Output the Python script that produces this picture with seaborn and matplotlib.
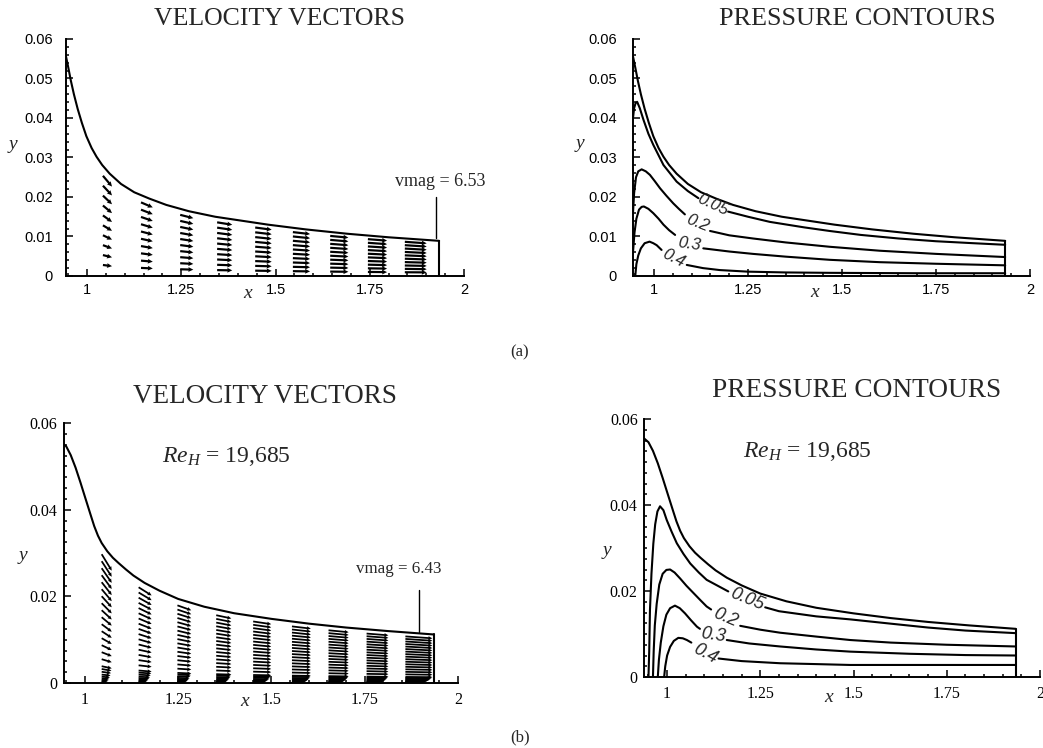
import numpy as np
import matplotlib
matplotlib.use("Agg")
import matplotlib.pyplot as plt
import seaborn as sns
from matplotlib.ticker import MultipleLocator, FixedLocator, FuncFormatter

# ---------------- duct geometry: upper wall y(x) ----------------
wall_a_x = [0.944, 0.950, 0.957, 0.965, 0.975, 0.986, 0.998, 1.012, 1.025, 1.040, 1.060,
            1.090, 1.125, 1.165, 1.210, 1.270, 1.340, 1.410, 1.480, 1.580, 1.690, 1.800, 1.934]
wall_a_y = [0.0556, 0.0528, 0.0494, 0.0460, 0.0423, 0.0388, 0.0354, 0.0324, 0.0302, 0.0281, 0.0259,
            0.0233, 0.0212, 0.0196, 0.0180, 0.0164, 0.0150, 0.0140, 0.0130, 0.0118, 0.0107, 0.0098, 0.0089]

wall_b_x = [0.938, 0.950, 0.962, 0.975, 0.988, 1.000, 1.015, 1.025, 1.035, 1.045, 1.060, 1.075,
            1.090, 1.110, 1.130, 1.160, 1.200, 1.250, 1.320, 1.400, 1.500, 1.600, 1.700, 1.810, 1.935]
wall_b_y = [0.0555, 0.0546, 0.0526, 0.0497, 0.0463, 0.0430, 0.0389, 0.0362, 0.0340, 0.0323, 0.0304, 0.0289,
            0.0277, 0.0262, 0.0248, 0.0231, 0.0213, 0.0194, 0.0176, 0.0161, 0.0148, 0.0137, 0.0128, 0.0120, 0.0112]

# ---------------- velocity vector stations ----------------
stations_a_x = [1.042, 1.143, 1.247, 1.345, 1.446, 1.546, 1.645, 1.745, 1.843]
speed_a = [2.7, 3.5, 3.9, 4.5, 4.9, 5.1, 5.4, 5.7, 6.5]
rows_a = [0.10, 0.19, 0.28, 0.37, 0.46, 0.55, 0.64, 0.73, 0.82, 0.91]
vmag_a = 6.53

stations_b_x = [1.045, 1.144, 1.248, 1.352, 1.451, 1.555, 1.653, 1.755, 1.859]
speed_b = [2.4, 3.1, 3.3, 3.6, 4.3, 4.5, 4.8, 5.2, 6.43]
core_rows_b = [0.92, 0.87, 0.82, 0.77, 0.72, 0.67, 0.62, 0.57, 0.52, 0.47, 0.42,
               0.37, 0.32, 0.27, 0.22, 0.17, 0.12]
bl_rows_b = [0.003, 0.008, 0.014, 0.022, 0.032, 0.045, 0.060, 0.080, 0.100]
bl_speed_b = [0.40, 0.52, 0.60, 0.68, 0.75, 0.82, 0.88, 0.93, 0.97]
vmag_b = 6.43
reynolds_b = "19,685"

# ---------------- isobars, case (a) ----------------
iso_levels = ["0.05", "0.2", "0.3", "0.4"]

iso_a_005_x = [0.944, 0.947, 0.951, 0.955, 0.962, 0.972, 0.985, 0.998, 1.025, 1.060, 1.090, 1.118,
               1.197, 1.250, 1.308, 1.400, 1.467, 1.550, 1.650, 1.750, 1.850, 1.934]
iso_a_005_y = [0.0400, 0.0425, 0.0438, 0.0441, 0.0425, 0.0395, 0.0360, 0.0332, 0.0281, 0.0239, 0.0215, 0.0197,
               0.0163, 0.0150, 0.0137, 0.0123, 0.0114, 0.0104, 0.0095, 0.0088, 0.0083, 0.0079]
iso_a_02_x = [0.944, 0.947, 0.952, 0.958, 0.967, 0.978, 0.989, 1.002, 1.016, 1.033, 1.051, 1.066, 1.082,
              1.149, 1.200, 1.263, 1.350, 1.467, 1.600, 1.750, 1.934]
iso_a_02_y = [0.0160, 0.0210, 0.0250, 0.0265, 0.0270, 0.0265, 0.0256, 0.0240, 0.0222, 0.0203, 0.0184, 0.0170, 0.0156,
              0.0114, 0.0103, 0.0095, 0.0085, 0.0074, 0.0064, 0.0056, 0.0048]
iso_a_03_x = [0.944, 0.948, 0.953, 0.960, 0.967, 0.973, 0.985, 0.998, 1.012, 1.025, 1.040, 1.056,
              1.131, 1.200, 1.263, 1.350, 1.467, 1.600, 1.750, 1.934]
iso_a_03_y = [0.0060, 0.0110, 0.0145, 0.0168, 0.0175, 0.0176, 0.0170, 0.0159, 0.0145, 0.0130, 0.0116, 0.0104,
              0.0070, 0.0062, 0.0056, 0.0049, 0.0041, 0.0035, 0.0031, 0.0027]
iso_a_04_x = [0.950, 0.953, 0.958, 0.965, 0.975, 0.988, 0.998, 1.007, 1.020,
              1.087, 1.130, 1.175, 1.250, 1.350, 1.467, 1.700, 1.934]
iso_a_04_y = [0.0000, 0.0030, 0.0052, 0.0070, 0.0083, 0.0087, 0.0083, 0.0078, 0.0066,
              0.0028, 0.0020, 0.0015, 0.0011, 0.0009, 0.0008, 0.0007, 0.0007]
iso_a_split = [12, 13, 12, 9]

# ---------------- isobars, case (b) ----------------
iso_b_005_x = [0.950, 0.952, 0.954, 0.958, 0.963, 0.968, 0.974, 0.981, 0.990, 0.999, 1.012, 1.026, 1.044,
               1.062, 1.085, 1.106, 1.164,
               1.263, 1.300, 1.400, 1.491, 1.600, 1.700, 1.800, 1.935]
iso_b_005_y = [0.0000, 0.0060, 0.0156, 0.0240, 0.0310, 0.0355, 0.0385, 0.0397, 0.0388, 0.0365, 0.0338, 0.0311, 0.0286,
               0.0264, 0.0243, 0.0226, 0.0199,
               0.0162, 0.0153, 0.0141, 0.0134, 0.0124, 0.0115, 0.0108, 0.0102]
iso_b_02_x = [0.962, 0.964, 0.967, 0.972, 0.979, 0.988, 0.998, 1.008, 1.020, 1.035, 1.052, 1.071, 1.090, 1.106, 1.118,
              1.196, 1.250, 1.303, 1.400, 1.491, 1.600, 1.750, 1.935]
iso_b_02_y = [0.0000, 0.0060, 0.0120, 0.0170, 0.0215, 0.0240, 0.0249, 0.0250, 0.0243, 0.0229, 0.0212, 0.0195, 0.0178, 0.0164, 0.0157,
              0.0119, 0.0110, 0.0103, 0.0094, 0.0086, 0.0080, 0.0075, 0.0071]
iso_b_03_x = [0.975, 0.978, 0.983, 0.990, 0.998, 1.008, 1.021, 1.034, 1.048, 1.064, 1.080, 1.088,
              1.160, 1.220, 1.303, 1.400, 1.491, 1.650, 1.800, 1.935]
iso_b_03_y = [0.0000, 0.0040, 0.0080, 0.0118, 0.0145, 0.0160, 0.0166, 0.0160, 0.0148, 0.0132, 0.0117, 0.0112,
              0.0086, 0.0078, 0.0071, 0.0064, 0.0059, 0.0054, 0.0051, 0.0050]
iso_b_04_x = [0.992, 0.995, 1.000, 1.008, 1.018, 1.030, 1.042, 1.053, 1.065,
              1.138, 1.200, 1.303, 1.400, 1.491, 1.700, 1.935]
iso_b_04_y = [0.0000, 0.0025, 0.0050, 0.0070, 0.0084, 0.0091, 0.0090, 0.0086, 0.0080,
              0.0043, 0.0037, 0.0032, 0.0030, 0.0028, 0.0028, 0.0028]
iso_b_split = [17, 15, 12, 9]

x_ticks = [1, 1.25, 1.5, 1.75, 2]

# ---------------- style ----------------
sns.set_theme(style="ticks")
plt.rcParams.update({
    "font.family": ["Liberation Serif", "DejaVu Serif"],
    "mathtext.fontset": "custom",
    "mathtext.rm": "Liberation Serif",
    "mathtext.it": "Liberation Serif:italic",
    "axes.linewidth": 1.4,
    "axes.edgecolor": "black",
    "xtick.color": "black",
    "ytick.color": "black",
})

W, H = 1043, 748
fig = plt.figure(figsize=(W / 100, H / 100), dpi=100)
fig.patch.set_facecolor("white")


def make_axes(left, right, top, bottom):
    return fig.add_axes([left / W, 1 - bottom / H, (right - left) / W, (bottom - top) / H])


ax_va = make_axes(66, 464, 39, 276)
ax_pa = make_axes(633, 1030, 39, 276)
ax_vb = make_axes(64, 458, 423, 683)
ax_pb = make_axes(644, 1040, 419, 677)

LW = 1.5


def line(ax, xs, ys, lw=LW):
    sns.lineplot(x=list(xs), y=list(ys), ax=ax, color="black", lw=lw, sort=False,
                 estimator=None, legend=False)


def draw_duct(ax, wx, wy):
    line(ax, wx, wy)
    line(ax, [wx[-1], wx[-1]], [0.0, wy[-1]])


def draw_vectors(ax, wx, wy, st_x, speeds, rows, factors, scale, width):
    wx = np.asarray(wx, float)
    wy = np.asarray(wy, float)
    slope = np.gradient(wy, wx)
    X, Y, U, V = [], [], [], []
    for xs, sp in zip(st_x, speeds):
        h = np.interp(xs, wx, wy)
        s = np.interp(xs, wx, slope)
        for f, k in zip(rows, factors):
            u = sp * k
            X.append(xs)
            Y.append(f * h)
            U.append(u)
            V.append(u * f * s)
    ax.quiver(X, Y, U, V, angles="xy", scale_units="xy", scale=scale, width=width,
              headwidth=2.2, headlength=2.3, headaxislength=2.1, minlength=0.5,
              color="black", zorder=3)


def draw_isobars(ax, curves, splits, labels, fsize):
    for (xs, ys), sp, (txt, lx, ly, rot) in zip(curves, splits, labels):
        line(ax, xs[:sp], ys[:sp])
        line(ax, xs[sp:], ys[sp:])
        ax.text(lx, ly, txt, rotation=rot, rotation_mode="anchor", ha="center", va="center",
                fontsize=fsize, style="italic", family="Liberation Sans", zorder=4)


def style_axes(ax, xlim, ymajor, yminor, font, fsize, xpad, ypad):
    ax.set_xlim(*xlim)
    ax.set_ylim(0, 0.06)
    ax.set_xlabel("")
    ax.set_ylabel("")
    sns.despine(ax=ax)
    ax.xaxis.set_major_locator(FixedLocator(x_ticks))
    ax.xaxis.set_minor_locator(MultipleLocator(0.05))
    ax.yaxis.set_major_locator(MultipleLocator(ymajor))
    ax.yaxis.set_minor_locator(MultipleLocator(yminor))
    fmt = FuncFormatter(lambda v, p: f"{v:g}")
    ax.xaxis.set_major_formatter(fmt)
    ax.yaxis.set_major_formatter(fmt)
    ax.tick_params(which="both", direction="in", width=1.1, top=False, right=False,
                   labelsize=fsize, labelfontfamily=font)
    ax.tick_params(which="major", length=5)
    ax.tick_params(which="minor", length=2.5)
    ax.tick_params(axis="x", which="both", pad=xpad)
    ax.tick_params(axis="y", which="both", pad=ypad)
    ax.set_facecolor("white")


def axis_letters(ax, xpos, ypos, size=14):
    ax.text(*xpos, "x", transform=ax.transAxes, ha="center", va="center",
            style="italic", fontsize=size, family="Liberation Serif")
    ax.text(*ypos, "y", transform=ax.transAxes, ha="center", va="center",
            style="italic", fontsize=size, family="Liberation Serif")


# ---------------- (a) velocity vectors ----------------
draw_duct(ax_va, wall_a_x, wall_a_y)
draw_vectors(ax_va, wall_a_x, wall_a_y, stations_a_x, speed_a, rows_a,
             [1.0] * len(rows_a), scale=112, width=0.0055)
line(ax_va, [1.926, 1.926], [0.0096, 0.0200], lw=1.0)
ax_va.text(1.936, 0.0228, f"vmag = {vmag_a}", ha="center", va="baseline", fontsize=13,
           family="Liberation Serif")
style_axes(ax_va, (0.944, 2.0), 0.01, 0.002, "Liberation Sans", 10.5, 5, 9.5)
axis_letters(ax_va, (0.457, -0.072), (-0.133, 0.553))

# ---------------- (a) pressure contours ----------------
draw_duct(ax_pa, wall_a_x, wall_a_y)
draw_isobars(ax_pa,
             [(iso_a_005_x, iso_a_005_y), (iso_a_02_x, iso_a_02_y),
              (iso_a_03_x, iso_a_03_y), (iso_a_04_x, iso_a_04_y)],
             iso_a_split,
             [(iso_levels[0], 1.157, 0.0180, -25), (iso_levels[1], 1.115, 0.0133, -22),
              (iso_levels[2], 1.094, 0.0080, -8), (iso_levels[3], 1.053, 0.0045, -27)],
             12)
style_axes(ax_pa, (0.944, 2.0), 0.01, 0.002, "Liberation Sans", 10.5, 5, 11.5)
axis_letters(ax_pa, (0.458, -0.068), (-0.134, 0.557))

# ---------------- (b) velocity vectors ----------------
draw_duct(ax_vb, wall_b_x, wall_b_y)
rows_b = core_rows_b + bl_rows_b
factors_b = [1.0] * len(core_rows_b) + bl_speed_b
draw_vectors(ax_vb, wall_b_x, wall_b_y, stations_b_x, speed_b, rows_b, factors_b,
             scale=89, width=0.0045)
line(ax_vb, [1.896, 1.896], [0.0118, 0.0215], lw=1.0)
ax_vb.text(1.841, 0.0254, f"vmag = {vmag_b}", ha="center", va="baseline", fontsize=12.2,
           family="Liberation Serif")
ax_vb.text(1.379, 0.0510, r"$\mathit{Re}_{\mathit{H}}$ = " + reynolds_b, ha="center",
           va="baseline", fontsize=17, family="Liberation Serif")
style_axes(ax_vb, (0.944, 2.0), 0.02, 0.0025, "Liberation Serif", 11.5, 6.5, 5)
axis_letters(ax_vb, (0.459, -0.073), (-0.104, 0.492))

# ---------------- (b) pressure contours ----------------
draw_duct(ax_pb, wall_b_x, wall_b_y)
draw_isobars(ax_pb,
             [(iso_b_005_x, iso_b_005_y), (iso_b_02_x, iso_b_02_y),
              (iso_b_03_x, iso_b_03_y), (iso_b_04_x, iso_b_04_y)],
             iso_b_split,
             [(iso_levels[0], 1.2135, 0.0181, -22), (iso_levels[1], 1.157, 0.0137, -23),
              (iso_levels[2], 1.123, 0.0097, -8), (iso_levels[3], 1.102, 0.0053, -28)],
             13)
ax_pb.text(1.375, 0.0512, r"$\mathit{Re}_{\mathit{H}}$ = " + reynolds_b, ha="center",
           va="baseline", fontsize=17, family="Liberation Serif")
style_axes(ax_pb, (0.938, 2.0), 0.02, 0.0025, "Liberation Serif", 11.5, 6.5, 4.5)
axis_letters(ax_pb, (0.467, -0.081), (-0.093, 0.492))

# ---------------- titles and case tags ----------------
title_kw = dict(ha="center", va="baseline", family="Liberation Serif")
fig.text(280 / W, 1 - 25 / H, "VELOCITY VECTORS", fontsize=18.6, **title_kw)
fig.text(857 / W, 1 - 25 / H, "PRESSURE CONTOURS", fontsize=18.8, **title_kw)
fig.text(265 / W, 1 - 403 / H, "VELOCITY VECTORS", fontsize=19.5, **title_kw)
fig.text(857 / W, 1 - 397 / H, "PRESSURE CONTOURS", fontsize=19.7, **title_kw)
fig.text(520 / W, 1 - 352 / H, "(a)", ha="center", va="center", fontsize=12,
         family="Liberation Serif")
fig.text(520 / W, 1 - 737 / H, "(b)", ha="center", va="center", fontsize=12,
         family="Liberation Serif")

fig.savefig("out.png", dpi=100, facecolor="white")
